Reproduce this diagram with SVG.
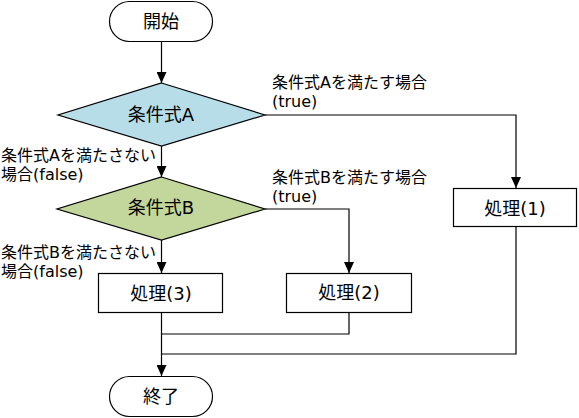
<svg xmlns="http://www.w3.org/2000/svg" width="579" height="418" viewBox="0 0 579 418">
<style>
.shape{stroke:#000;stroke-width:1.2;fill:#fff}
.da{fill:#b7dde8}
.db{fill:#c3d69b}
.conn{stroke:#000;stroke-width:1.2;fill:none}
.nt{font-family:"DejaVu Sans","Noto Sans CJK JP",sans-serif;font-size:18px;fill:#000;text-anchor:middle;dominant-baseline:central}
.lb{font-family:"DejaVu Sans","Noto Sans CJK JP",sans-serif;font-size:16px;fill:#000}
</style>
<defs>
<marker id="arr" viewBox="0 0 11 10" refX="11" refY="5" markerWidth="11" markerHeight="10" markerUnits="userSpaceOnUse" orient="auto">
<path d="M0,0 L11,5 L0,10 z" fill="#000"/>
</marker>
</defs>
<rect width="579" height="418" fill="#fff"/>
<g id="connectors">
<path class="conn" d="M161.5,42 V83" marker-end="url(#arr)"/>
<path class="conn" d="M161.5,146 V177" marker-end="url(#arr)"/>
<path class="conn" d="M161.5,240 V273" marker-end="url(#arr)"/>
<path class="conn" d="M161.5,313 V376" marker-end="url(#arr)"/>
<path class="conn" d="M265,115 H516 V188" marker-end="url(#arr)"/>
<path class="conn" d="M265,209 H349 V273" marker-end="url(#arr)"/>
<path class="conn" d="M349,313 V334 H161.5"/>
<path class="conn" d="M516,227 V354 H161.5"/>
</g>
<g id="labels">
<text class="lb" x="272" y="87.5">条件式Aを満たす場合</text>
<text class="lb" x="272" y="106.5">(true)</text>
<text class="lb" x="1" y="161">条件式Aを満たさない</text>
<text class="lb" x="1" y="180">場合(false)</text>
<text class="lb" x="272" y="182.5">条件式Bを満たす場合</text>
<text class="lb" x="272" y="201.5">(true)</text>
<text class="lb" x="1" y="257.5">条件式Bを満たさない</text>
<text class="lb" x="1" y="276.5">場合(false)</text>
</g>
<g id="start">
<rect class="shape" x="109.5" y="1.5" width="103" height="40" rx="20" ry="20"/>
<text class="nt" x="161" y="21.5">開始</text>
</g>
<g id="condA">
<polygon class="shape da" points="161.5,83 265,115 161.5,146 58,115"/>
<text class="nt" x="161" y="114">条件式A</text>
</g>
<g id="condB">
<polygon class="shape db" points="161.5,177 265,209 161.5,240 57,209"/>
<text class="nt" x="161" y="207.5">条件式B</text>
</g>
<g id="proc1">
<rect class="shape" x="453.5" y="188.5" width="123" height="38"/>
<text class="nt" x="515" y="208">処理(1)</text>
</g>
<g id="proc2">
<rect class="shape" x="286.5" y="273.5" width="125" height="39"/>
<text class="nt" x="349" y="292.5">処理(2)</text>
</g>
<g id="proc3">
<rect class="shape" x="98.5" y="273.5" width="124" height="39"/>
<text class="nt" x="161" y="293">処理(3)</text>
</g>
<g id="end">
<rect class="shape" x="109.5" y="376.5" width="103" height="40" rx="20" ry="20"/>
<text class="nt" x="161" y="396">終了</text>
</g>
</svg>
